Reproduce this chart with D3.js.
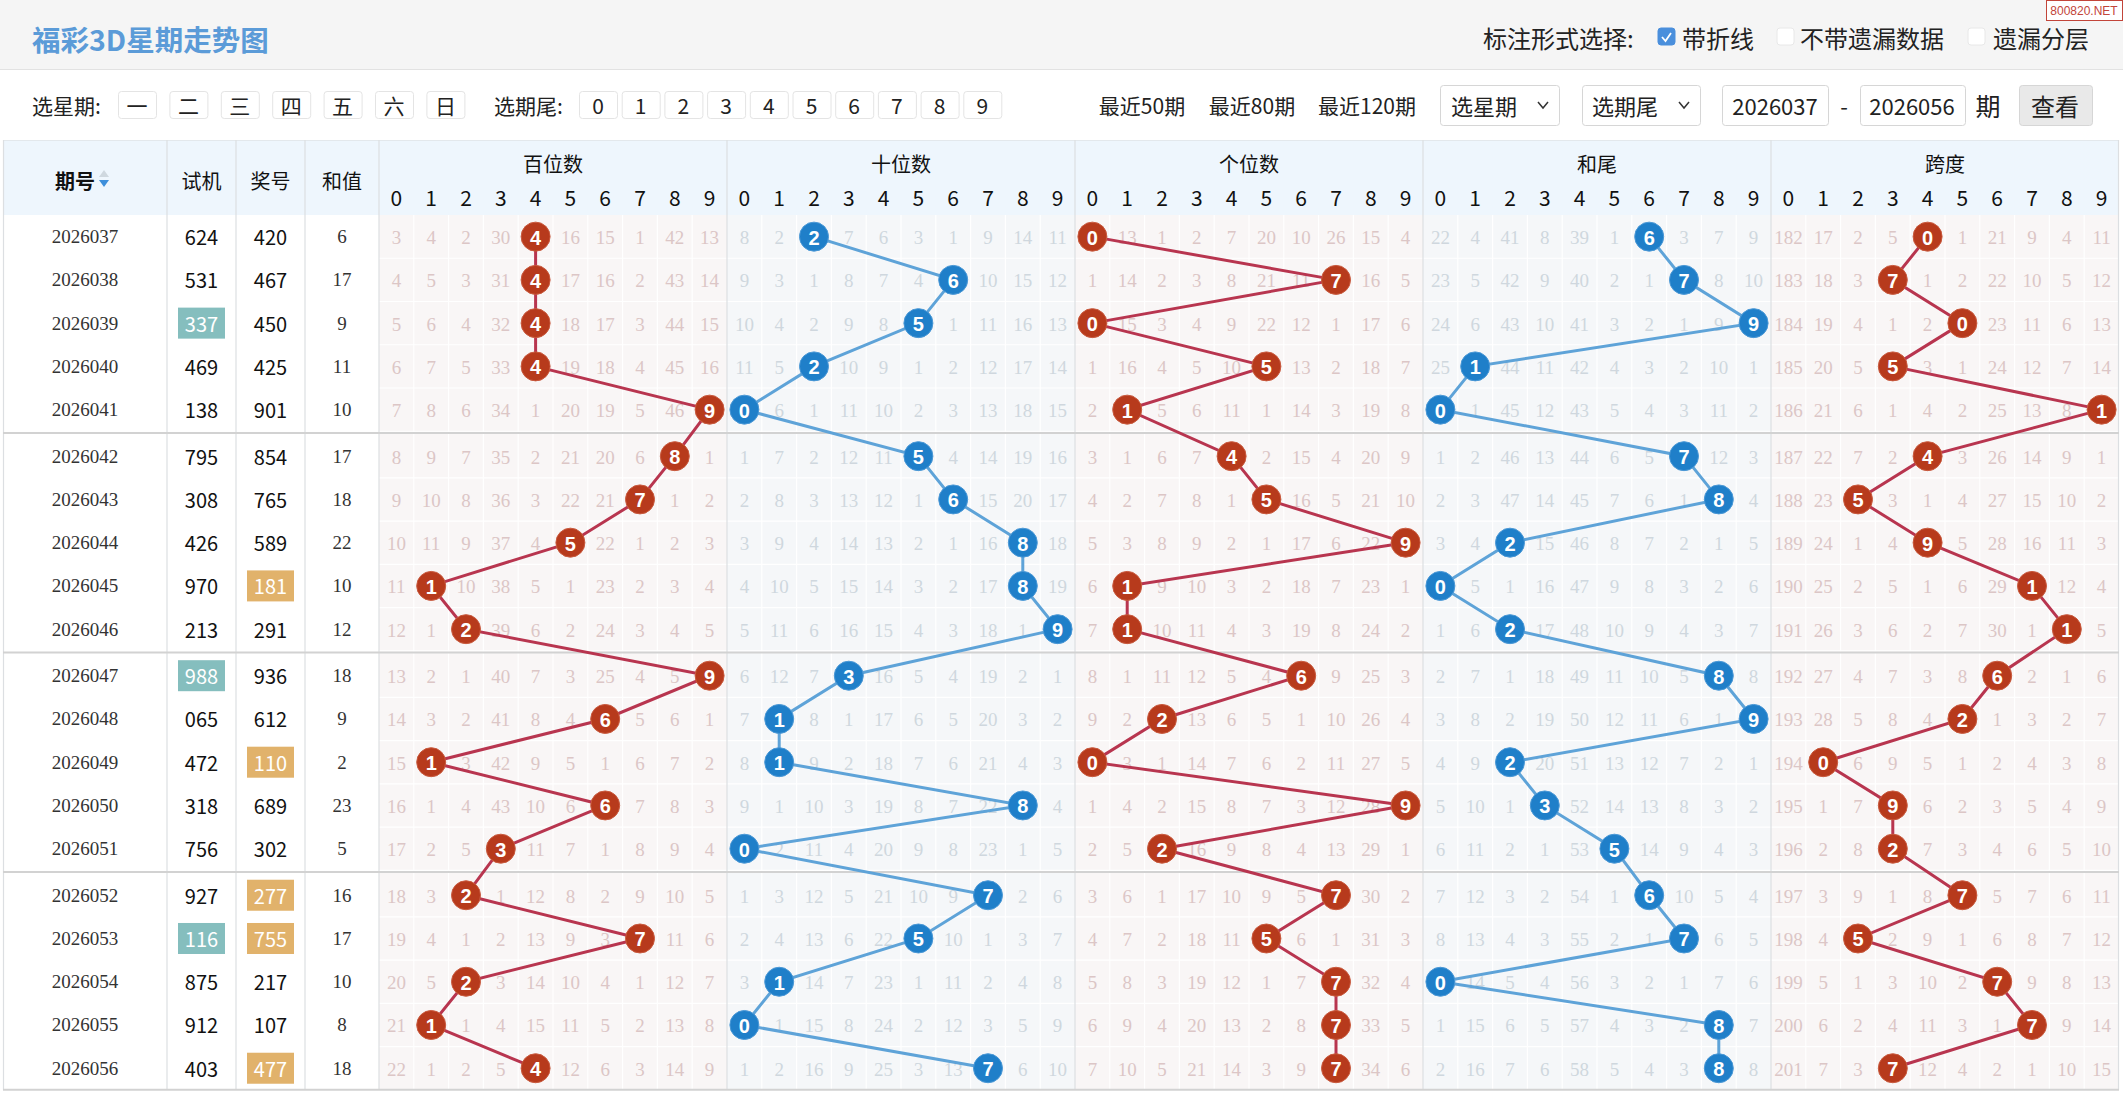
<!DOCTYPE html>
<html><head><meta charset="utf-8">
<script src="https://cdn.jsdelivr.net/npm/d3@7/dist/d3.min.js"></script>
<style>
html,body{margin:0;padding:0;background:#fff;overflow:hidden}
svg{display:block}
</style></head><body>
<svg id="chart" width="2123" height="1094"></svg>
<script>
// ---------------- DATA ----------------
const periods = ["2026037","2026038","2026039","2026040","2026041","2026042","2026043","2026044","2026045","2026046",
                 "2026047","2026048","2026049","2026050","2026051","2026052","2026053","2026054","2026055","2026056"];
const trialNums = ["624","531","337","469","138","795","308","426","970","213",
                   "988","065","472","318","756","927","116","875","912","403"];
const drawNums = ["420","467","450","425","901","854","765","589","181","291",
                  "936","612","110","689","302","277","755","217","107","477"];
const sumValues = [6,17,9,11,10,17,18,22,10,12,18,9,2,23,5,16,17,10,8,18];
const digitLabels = ["0","1","2","3","4","5","6","7","8","9"];
const sectionNames = ["百位数","十位数","个位数","和尾","跨度"];

const baiHits  = [4,4,4,4,9,8,7,5,1,2,9,6,1,6,3,2,7,2,1,4];
const shiHits  = [2,6,5,2,0,5,6,8,8,9,3,1,1,8,0,7,5,1,0,7];
const geHits   = [0,7,0,5,1,4,5,9,1,1,6,2,0,9,2,7,5,7,7,7];
const tailHits = [6,7,9,1,0,7,8,2,0,2,8,9,2,3,5,6,7,0,8,8];
const spanHits = [4,3,5,3,9,4,2,4,7,8,6,5,1,3,3,5,2,6,7,3];
const spanLabels = [0,7,0,5,1,4,5,9,1,1,6,2,0,9,2,7,5,7,7,7];

const baiMiss = [
 [3,4,2,30,0,16,15,1,42,13],[4,5,3,31,0,17,16,2,43,14],[5,6,4,32,0,18,17,3,44,15],[6,7,5,33,0,19,18,4,45,16],
 [7,8,6,34,1,20,19,5,46,0],[8,9,7,35,2,21,20,6,0,1],[9,10,8,36,3,22,21,0,1,2],[10,11,9,37,4,0,22,1,2,3],
 [11,0,10,38,5,1,23,2,3,4],[12,1,0,39,6,2,24,3,4,5],[13,2,1,40,7,3,25,4,5,0],[14,3,2,41,8,4,0,5,6,1],
 [15,0,3,42,9,5,1,6,7,2],[16,1,4,43,10,6,0,7,8,3],[17,2,5,0,11,7,1,8,9,4],[18,3,0,1,12,8,2,9,10,5],
 [19,4,1,2,13,9,3,0,11,6],[20,5,0,3,14,10,4,1,12,7],[21,0,1,4,15,11,5,2,13,8],[22,1,2,5,0,12,6,3,14,9]];
const shiMiss = [
 [8,2,0,7,6,3,1,9,14,11],[9,3,1,8,7,4,0,10,15,12],[10,4,2,9,8,0,1,11,16,13],[11,5,0,10,9,1,2,12,17,14],
 [0,6,1,11,10,2,3,13,18,15],[1,7,2,12,11,0,4,14,19,16],[2,8,3,13,12,1,0,15,20,17],[3,9,4,14,13,2,1,16,0,18],
 [4,10,5,15,14,3,2,17,0,19],[5,11,6,16,15,4,3,18,1,0],[6,12,7,0,16,5,4,19,2,1],[7,0,8,1,17,6,5,20,3,2],
 [8,0,9,2,18,7,6,21,4,3],[9,1,10,3,19,8,7,22,0,4],[0,2,11,4,20,9,8,23,1,5],[1,3,12,5,21,10,9,0,2,6],
 [2,4,13,6,22,0,10,1,3,7],[3,0,14,7,23,1,11,2,4,8],[0,1,15,8,24,2,12,3,5,9],[1,2,16,9,25,3,13,0,6,10]];
const geMiss = [
 [0,13,1,2,7,20,10,26,15,4],[1,14,2,3,8,21,11,0,16,5],[0,15,3,4,9,22,12,1,17,6],[1,16,4,5,10,0,13,2,18,7],
 [2,0,5,6,11,1,14,3,19,8],[3,1,6,7,0,2,15,4,20,9],[4,2,7,8,1,0,16,5,21,10],[5,3,8,9,2,1,17,6,22,0],
 [6,0,9,10,3,2,18,7,23,1],[7,0,10,11,4,3,19,8,24,2],[8,1,11,12,5,4,0,9,25,3],[9,2,0,13,6,5,1,10,26,4],
 [0,3,1,14,7,6,2,11,27,5],[1,4,2,15,8,7,3,12,28,0],[2,5,0,16,9,8,4,13,29,1],[3,6,1,17,10,9,5,0,30,2],
 [4,7,2,18,11,0,6,1,31,3],[5,8,3,19,12,1,7,0,32,4],[6,9,4,20,13,2,8,0,33,5],[7,10,5,21,14,3,9,0,34,6]];
const tailMiss = [
 [22,4,41,8,39,1,0,3,7,9],[23,5,42,9,40,2,1,0,8,10],[24,6,43,10,41,3,2,1,9,0],[25,0,44,11,42,4,3,2,10,1],
 [0,1,45,12,43,5,4,3,11,2],[1,2,46,13,44,6,5,0,12,3],[2,3,47,14,45,7,6,1,0,4],[3,4,0,15,46,8,7,2,1,5],
 [0,5,1,16,47,9,8,3,2,6],[1,6,0,17,48,10,9,4,3,7],[2,7,1,18,49,11,10,5,0,8],[3,8,2,19,50,12,11,6,1,0],
 [4,9,0,20,51,13,12,7,2,1],[5,10,1,0,52,14,13,8,3,2],[6,11,2,1,53,0,14,9,4,3],[7,12,3,2,54,1,0,10,5,4],
 [8,13,4,3,55,2,1,0,6,5],[0,14,5,4,56,3,2,1,7,6],[1,15,6,5,57,4,3,2,0,7],[2,16,7,6,58,5,4,3,0,8]];
const spanMiss = [
 [182,17,2,5,0,1,21,9,4,11],[183,18,3,0,1,2,22,10,5,12],[184,19,4,1,2,0,23,11,6,13],[185,20,5,0,3,1,24,12,7,14],
 [186,21,6,1,4,2,25,13,8,0],[187,22,7,2,0,3,26,14,9,1],[188,23,0,3,1,4,27,15,10,2],[189,24,1,4,0,5,28,16,11,3],
 [190,25,2,5,1,6,29,0,12,4],[191,26,3,6,2,7,30,1,0,5],[192,27,4,7,3,8,0,2,1,6],[193,28,5,8,4,0,1,3,2,7],
 [194,0,6,9,5,1,2,4,3,8],[195,1,7,0,6,2,3,5,4,9],[196,2,8,0,7,3,4,6,5,10],[197,3,9,1,8,0,5,7,6,11],
 [198,4,0,2,9,1,6,8,7,12],[199,5,1,3,10,2,0,9,8,13],[200,6,2,4,11,3,1,0,9,14],[201,7,3,0,12,4,2,1,10,15]];

const weekButtons = ["一","二","三","四","五","六","日"];
const tailButtons = ["0","1","2","3","4","5","6","7","8","9"];
const recentLinks = ["最近50期","最近80期","最近120期"];

// ---------------- SETUP ----------------
const W = 2123, H = 1094;
const CJK = '"Noto Sans CJK SC","Noto Sans",sans-serif';
const SERIF = '"Liberation Serif","DejaVu Serif",serif';
const SANS = '"Liberation Sans",Arial,sans-serif';
const svg = d3.select("#chart");

const tableX0 = 3, tableX1 = 2119;
const headTop = 140, headBot = 215;
const rowH = 43.25, sepRatio = 0.076;
const yLin = d3.scaleLinear().domain([0, 1]).range([headBot + rowH / 2, headBot + rowH * 1.5]);
const slot = i => i + Math.floor(i / 5) * sepRatio;
const rowY = i => yLin(slot(i));
const tableBot = rowY(19) + rowH / 2;

const xCell = d3.scaleBand().domain(d3.range(50)).range([379, tableX1]).paddingInner(0).paddingOuter(0);
const cw = xCell.bandwidth();
const leftCols = [
  {key: "期号", x0: tableX0, x1: 167},
  {key: "试机", x0: 167, x1: 236},
  {key: "奖号", x0: 236, x1: 305},
  {key: "和值", x0: 305, x1: 379}
];

const sections = [
  {name: sectionNames[0], hits: baiHits, labels: baiHits, miss: baiMiss, kind: "red"},
  {name: sectionNames[1], hits: shiHits, labels: shiHits, miss: shiMiss, kind: "blue"},
  {name: sectionNames[2], hits: geHits, labels: geHits, miss: geMiss, kind: "red"},
  {name: sectionNames[3], hits: tailHits, labels: tailHits, miss: tailMiss, kind: "blue"},
  {name: sectionNames[4], hits: spanHits, labels: spanLabels, miss: spanMiss, kind: "red"}
];
const theme = {
  red:  {bg: "#f9f6f6", miss: "#dcc6c6", ball: "#b73a1c", line: "#b8354f"},
  blue: {bg: "#f5f7f9", miss: "#cfd7de", ball: "#1f7fc9", line: "#5ea3d8"}
};

// ---------------- TITLE BAR ----------------
svg.append("rect").attr("x", 0).attr("y", 0).attr("width", W).attr("height", 69).attr("fill", "#f5f5f5");
svg.append("line").attr("x1", 0).attr("x2", W).attr("y1", 69.5).attr("y2", 69.5).attr("stroke", "#e2e2e2");
svg.append("text").attr("x", 32).attr("y", 38).attr("dominant-baseline", "central")
  .attr("font-family", CJK).attr("font-size", 28.5).attr("font-weight", 700).attr("fill", "#5b9bd8")
  .text("福彩3D星期走势图");

const optY = 37;
svg.append("text").attr("x", 1483).attr("y", optY).attr("dominant-baseline", "central")
  .attr("font-family", CJK).attr("font-size", 24).attr("fill", "#222").text("标注形式选择:");
const opts = [
  {cx: 1658, tx: 1682, label: "带折线", checked: true},
  {cx: 1777, tx: 1800, label: "不带遗漏数据", checked: false},
  {cx: 1968, tx: 1993, label: "遗漏分层", checked: false}
];
opts.forEach(o => {
  svg.append("rect").attr("x", o.cx).attr("y", optY - 9).attr("width", 17).attr("height", 17).attr("rx", 3)
    .attr("fill", o.checked ? "#4a8fdc" : "#fff").attr("stroke", o.checked ? "#4a8fdc" : "#e8e8e8");
  if (o.checked) {
    svg.append("path").attr("d", `M${o.cx + 4},${optY} L${o.cx + 7.5},${optY + 4} L${o.cx + 13},${optY - 4}`)
      .attr("fill", "none").attr("stroke", "#fff").attr("stroke-width", 1.8);
  }
  svg.append("text").attr("x", o.tx).attr("y", optY).attr("dominant-baseline", "central")
    .attr("font-family", CJK).attr("font-size", 24).attr("fill", "#222").text(o.label);
});
// watermark
svg.append("rect").attr("x", 2046.5).attr("y", 0.5).attr("width", 76).attr("height", 20).attr("fill", "#fff").attr("stroke", "#c2453a");
svg.append("text").attr("x", 2084).attr("y", 11).attr("text-anchor", "middle").attr("dominant-baseline", "central")
  .attr("font-family", SANS).attr("font-size", 12).attr("fill", "#c2453a").text("800820.NET");

// ---------------- FILTER ROW ----------------
const fy = 105;
const ftxt = (x, t, anchor, size) => svg.append("text").attr("x", x).attr("y", fy).attr("text-anchor", anchor || "start")
  .attr("dominant-baseline", "central").attr("font-family", CJK).attr("font-size", size || 21).attr("fill", "#222").text(t);
ftxt(32, "选星期:");
const btn = (x, w, t) => {
  svg.append("rect").attr("x", x + 0.5).attr("y", fy - 13.5).attr("width", w).attr("height", 27).attr("rx", 3)
    .attr("fill", "#fff").attr("stroke", "#e4e4e4");
  ftxt(x + w / 2, t, "middle", 21);
};
weekButtons.forEach((b, i) => btn(118 + i * 51.4, 38, b));
ftxt(494, "选期尾:");
tailButtons.forEach((b, i) => btn(579 + i * 42.7, 38, b));
ftxt(1142, recentLinks[0], "middle");
ftxt(1252, recentLinks[1], "middle");
ftxt(1367, recentLinks[2], "middle");
const box = (x, w, fill) => svg.append("rect").attr("x", x + 0.5).attr("y", 85.5).attr("width", w).attr("height", 40)
  .attr("rx", 3).attr("fill", fill || "#fff").attr("stroke", "#d6d6d6");
const chevron = x => svg.append("path").attr("d", `M${x - 5},${fy - 3} L${x},${fy + 3} L${x + 5},${fy - 3}`)
  .attr("fill", "none").attr("stroke", "#333").attr("stroke-width", 1.5);
box(1440, 119); ftxt(1451, "选星期", "start", 22); chevron(1543);
box(1582, 118); ftxt(1592, "选期尾", "start", 22); chevron(1684);
box(1722, 106); ftxt(1775, "2026037", "middle", 22);
ftxt(1844, "-", "middle", 22);
box(1860, 105); ftxt(1912, "2026056", "middle", 22);
ftxt(1988, "期", "middle", 25);
box(2019, 73, "#e9e9e9"); ftxt(2055, "查看", "middle", 24);

// ---------------- TABLE BACKGROUND ----------------
svg.append("rect").attr("x", tableX0).attr("y", headTop).attr("width", tableX1 - tableX0).attr("height", headBot - headTop)
  .attr("fill", "#eef6fd");
svg.append("line").attr("x1", tableX0).attr("x2", tableX1).attr("y1", headTop + 0.5).attr("y2", headTop + 0.5).attr("stroke", "#e3e8ec");

sections.forEach((s, si) => {
  const g = svg.append("g");
  const th = theme[s.kind];
  g.append("rect").attr("x", xCell(si * 10)).attr("y", headBot).attr("width", cw * 10).attr("height", tableBot - headBot)
    .attr("fill", th.bg);
  d3.range(1, 10).forEach(c => {
    g.append("line").attr("x1", xCell(si * 10 + c)).attr("x2", xCell(si * 10 + c)).attr("y1", headBot).attr("y2", tableBot)
      .attr("stroke", "#fff").attr("stroke-width", 1.2);
  });
  d3.range(20).forEach(r => {
    const yb = rowY(r) + rowH / 2;
    g.append("line").attr("x1", xCell(si * 10)).attr("x2", xCell(si * 10) + cw * 10).attr("y1", yb).attr("y2", yb)
      .attr("stroke", "#fff").attr("stroke-width", 1.2);
  });
});

const vlines = [tableX0 + 0.5, 167, 236, 305, 379].concat(d3.range(1, 5).map(k => xCell(k * 10))).concat([tableX1 - 0.5]);
vlines.forEach(x => {
  svg.append("line").attr("x1", x).attr("x2", x).attr("y1", headTop).attr("y2", tableBot)
    .attr("stroke", "#dcdfe2").attr("stroke-width", 1.2);
});
[5, 10, 15].forEach(r => {
  const y = (rowY(r - 1) + rowY(r)) / 2;
  svg.append("line").attr("x1", tableX0).attr("x2", tableX1).attr("y1", y).attr("y2", y)
    .attr("stroke", "#d2d2d2").attr("stroke-width", 2);
});
svg.append("line").attr("x1", tableX0).attr("x2", tableX1).attr("y1", tableBot).attr("y2", tableBot)
  .attr("stroke", "#d2d2d2").attr("stroke-width", 2);

// ---------------- HEADER TEXT ----------------
const hText = (x, y, t, size, weight) => svg.append("text").attr("x", x).attr("y", y).attr("text-anchor", "middle")
  .attr("dominant-baseline", "central").attr("font-family", CJK).attr("font-size", size || 20)
  .attr("font-weight", weight || 400).attr("fill", "#111").text(t);
hText(75, 180, "期号", 20, 700);
svg.append("path").attr("d", "M99,177 L104,170 L109,177 Z").attr("fill", "#cfd8df");
svg.append("path").attr("d", "M99,180 L109,180 L104,187 Z").attr("fill", "#3d8fdb");
leftCols.slice(1).forEach(c => hText((c.x0 + c.x1) / 2, 180, c.key, 20));
sections.forEach((s, si) => {
  hText(xCell(si * 10) + cw * 5, 163, s.name, 20);
  digitLabels.forEach((d, di) => hText(xCell(si * 10 + di) + cw / 2, 197, d, 21));
});

// ---------------- LEFT COLUMNS BODY ----------------
const hasPair = s => new Set(s.split("")).size < 3;
periods.forEach((p, i) => {
  const y = rowY(i);
  svg.append("text").attr("x", 85).attr("y", y).attr("text-anchor", "middle").attr("dominant-baseline", "central")
    .attr("font-family", SERIF).attr("font-size", 19).attr("fill", "#333").text(p);
  [[trialNums[i], 201.5, "#85bebe"], [drawNums[i], 270.5, "#e1b26b"]].forEach(([v, cx, hl]) => {
    const pair = hasPair(v);
    if (pair) svg.append("rect").attr("x", cx - 23.5).attr("y", y - 15.5).attr("width", 47).attr("height", 31).attr("fill", hl);
    svg.append("text").attr("x", cx).attr("y", y).attr("text-anchor", "middle").attr("dominant-baseline", "central")
      .attr("font-family", CJK).attr("font-size", 20).attr("fill", pair ? "#fff" : "#111").text(v);
  });
  svg.append("text").attr("x", 342).attr("y", y).attr("text-anchor", "middle").attr("dominant-baseline", "central")
    .attr("font-family", SERIF).attr("font-size", 19).attr("fill", "#333").text(sumValues[i]);
});

// ---------------- SECTIONS: MISSING NUMBERS, LINES, BALLS ----------------
sections.forEach((s, si) => {
  const th = theme[s.kind];
  const g = svg.append("g");
  s.miss.forEach((row, r) => {
    row.forEach((v, c) => {
      if (c === s.hits[r]) return;
      g.append("text").attr("x", xCell(si * 10 + c) + cw / 2).attr("y", rowY(r) + 1)
        .attr("text-anchor", "middle").attr("dominant-baseline", "central")
        .attr("font-family", SERIF).attr("font-size", 19).attr("fill", th.miss).text(v);
    });
  });
  const pts = s.hits.map((h, r) => [xCell(si * 10 + h) + cw / 2, rowY(r)]);
  g.append("path").attr("d", d3.line()(pts)).attr("fill", "none").attr("stroke", th.line).attr("stroke-width", 3);
  s.hits.forEach((h, r) => {
    const cx = xCell(si * 10 + h) + cw / 2, cy = rowY(r);
    g.append("circle").attr("cx", cx).attr("cy", cy).attr("r", 14.5).attr("fill", th.ball)
      .attr("stroke", s.kind === "red" ? "#c95a3e" : "#4a98d6").attr("stroke-width", 1);
    g.append("text").attr("x", cx).attr("y", cy + 1).attr("text-anchor", "middle").attr("dominant-baseline", "central")
      .attr("font-family", SANS).attr("font-weight", 700).attr("font-size", 20).attr("fill", "#fff").text(s.labels[r]);
  });
});
</script></body></html>
